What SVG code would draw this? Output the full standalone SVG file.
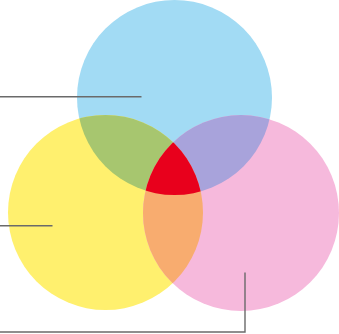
<svg xmlns="http://www.w3.org/2000/svg" width="339" height="334" viewBox="0 0 339 334">
<style>
.lead{fill:none;stroke:#6a6a6a;stroke-width:1.4}
</style>
<defs>
<clipPath id="cB"><circle cx="174.5" cy="97.5" r="97.5"/></clipPath>
<clipPath id="cY"><circle cx="105.5" cy="212.5" r="97.5"/></clipPath>
<clipPath id="cP"><circle cx="241" cy="213" r="98"/></clipPath>
</defs>
<rect width="339" height="334" fill="#ffffff"/>
<g id="blue"><circle cx="174.5" cy="97.5" r="97.5" fill="#a2dbf4"/></g>
<g id="yellow"><circle cx="105.5" cy="212.5" r="97.5" fill="#fff06e"/></g>
<g id="pink"><circle cx="241" cy="213" r="98" fill="#f6b9dc"/></g>
<g id="green" clip-path="url(#cB)"><circle cx="105.5" cy="212.5" r="97.5" fill="#a7c66f"/></g>
<g id="purple" clip-path="url(#cB)"><circle cx="241" cy="213" r="98" fill="#a8a3db"/></g>
<g id="orange" clip-path="url(#cY)"><circle cx="241" cy="213" r="98" fill="#f8ac6f"/></g>
<g id="red" clip-path="url(#cB)"><g clip-path="url(#cY)"><circle cx="241" cy="213" r="98" fill="#e8001c"/></g></g>
<g id="connectors">
<line class="lead" x1="0" y1="96.7" x2="141.5" y2="96.7"/>
<line class="lead" x1="0" y1="225.7" x2="52.5" y2="225.7"/>
<polyline class="lead" points="245,272.5 245,332 0,332"/>
</g>
</svg>
